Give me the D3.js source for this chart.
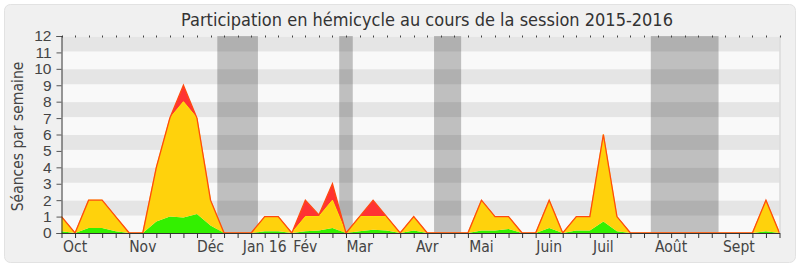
<!DOCTYPE html>
<html><head><meta charset="utf-8">
<script src="https://cdn.jsdelivr.net/npm/d3@7"></script>
<style>
html,body{margin:0;padding:0;background:#fff;}
svg{display:block;font-family:"DejaVu Sans Condensed","DejaVu Sans",sans-serif;}
</style></head>
<body>
<svg id="chart" width="800" height="267"></svg>
<script>
// ---- data (one entry per week of the session) ----
const title = "Participation en hémicycle au cours de la session 2015-2016";
const yLabel = "Séances par semaine";
// green layer (bottom)
const greenValues = [0.1,0,0.3,0.3,0.1,0,0,0.7,1.0,0.95,1.15,0.45,0,0,0,0.1,0.1,0,0.1,0.15,0.3,0,0.1,0.2,0.15,0,0.15,0,0,0,0,0.15,0.15,0.25,0,0,0.3,0,0.15,0.15,0.7,0.1,0,0,0,0,0,0,0,0,0,0,0.1,0];
// yellow layer top (cumulative)
const yellowTop = [1,0,2,2,1,0,0,4,7,8,7,2,0,0,0,1,1,0,1,1,2,0,1,1,1,0,1,0,0,0,0,2,1,1,0,0,2,0,1,1,6,1,0,0,0,0,0,0,0,0,0,0,2,0];
// red layer top = total
const totalValues = [1,0,2,2,1,0,0,4,7,9,7,2,0,0,0,1,1,0,2,1.1,3,0,1,2,1,0,1,0,0,0,0,2,1,1,0,0,2,0,1,1,6,1,0,0,0,0,0,0,0,0,0,0,2,0];
// month labels and the week index they belong to
const monthLabels = ["Oct","Nov","Déc","Jan 16","Fév","Mar","Avr","Mai","Juin","Juil","Août","Sept"];
const monthWeeks  = [1,6,11,15,18,22,27,31,36,40,45,50];
// holiday periods (first and last week index)
const holidayStart = [12,21,28,44];
const holidayEnd   = [14,21,29,48];
const yTicks = [0,1,2,3,4,5,6,7,8,9,10,11,12];

(function(){
// ---- layout ----
const svg = d3.select("#chart");
const pLeft = 61.5, pRight = 779.5, pTop = 36, pBottom = 233;
const nWeeks = totalValues.length;

const x = d3.scaleLinear().domain([0, nWeeks-1]).range([pLeft, pRight]);
const y = d3.scaleLinear().domain([0, 12]).range([pBottom, pTop]);

// panel
svg.append("rect").attr("x",4.5).attr("y",4.5).attr("width",791).attr("height",258)
  .attr("rx",6).attr("fill","#f0f0f0").attr("stroke","#e2e2e2");

// title
svg.append("text").attr("x",427).attr("y",26).attr("text-anchor","middle")
  .attr("font-size",18).attr("fill","#333").text(title);

// plot background stripes
const g = svg.append("g");
g.append("rect").attr("x",pLeft).attr("y",y(12)).attr("width",pRight-pLeft).attr("height",y(0)-y(12)).attr("fill","#f9f9f9");
g.selectAll("rect.stripe").data(d3.range(1,12,2)).join("rect").attr("class","stripe")
  .attr("x",pLeft).attr("width",pRight-pLeft)
  .attr("y",d=>y(d+1)+0.5).attr("height",d=>y(d)-y(d+1)-1.5)
  .attr("fill","#e5e5e5");

// holiday bands
g.selectAll("rect.hol").data(holidayStart.map((s,i)=>[s,holidayEnd[i]])).join("rect").attr("class","hol")
  .attr("x",d=>x(d[0]-0.5)).attr("width",d=>x(d[1]+0.5)-x(d[0]-0.5))
  .attr("y",y(12)).attr("height",y(0)-y(12))
  .attr("fill","#000").attr("fill-opacity",0.23);

// stacked layers
const weeks = d3.range(nWeeks);
const layers = [
  {top: greenValues, bottom: weeks.map(()=>0), color:"#33f000"},
  {top: yellowTop, bottom: greenValues, color:"#ffd20c"},
  {top: totalValues, bottom: yellowTop, color:"#ff3333"}
];
layers.forEach(L=>{
  const area = d3.area().x(i=>x(i)).y0(i=>y(Math.min(L.bottom[i],L.top[i]))).y1(i=>y(L.top[i]));
  g.append("path").datum(weeks).attr("d",area).attr("fill",L.color);
});
// yellow top edge
g.append("path").datum(weeks)
  .attr("d",d3.line().x(i=>x(i)).y(i=>y(yellowTop[i])))
  .attr("fill","none").attr("stroke","#ffe600").attr("stroke-width",1);
// total outline
g.append("path").datum(weeks)
  .attr("d",d3.line().x(i=>x(i)).y(i=>y(totalValues[i])))
  .attr("fill","none").attr("stroke","#ff4a10").attr("stroke-width",1.3);

// right border
g.append("line").attr("x1",pRight+0.5).attr("x2",pRight+0.5).attr("y1",pTop).attr("y2",pBottom).attr("stroke","#cfcfcf");

// top dotted ticks
svg.append("g").selectAll("line").data(weeks).join("line")
  .attr("x1",i=>Math.round(x(i))+0.5).attr("x2",i=>Math.round(x(i))+0.5)
  .attr("y1",pTop-0.5).attr("y2",pTop+1.5).attr("stroke","#444");

// y axis
const yAxis = svg.append("g").attr("transform",`translate(${pLeft},0)`)
  .call(d3.axisLeft(y).tickValues(yTicks).tickFormat(d3.format("d")).tickSize(5).tickPadding(5));
yAxis.select(".domain").attr("stroke","#333");
yAxis.selectAll(".tick line").attr("stroke","#555");
yAxis.selectAll("text").attr("font-size",15.5).attr("fill","#444").attr("font-family","inherit");

// x axis
const xAxis = svg.append("g").attr("transform",`translate(0,${pBottom})`)
  .call(d3.axisBottom(x).tickValues(weeks).tickFormat("").tickSize(5).tickSizeOuter(0));
xAxis.select(".domain").attr("stroke","#333");
xAxis.selectAll(".tick line").attr("stroke","#333");

svg.append("g").selectAll("text").data(monthLabels).join("text")
  .attr("x",(d,i)=>x(monthWeeks[i])).attr("y",252)
  .attr("text-anchor","middle").attr("font-size",15.5).attr("fill","#444").text(d=>d);

// y label
svg.append("text").attr("transform",`translate(23,${(pTop+pBottom)/2 + 2}) rotate(-90)`)
  .attr("text-anchor","middle").attr("font-size",15.5).attr("fill","#444").text(yLabel);
})();
</script>
</body></html>
